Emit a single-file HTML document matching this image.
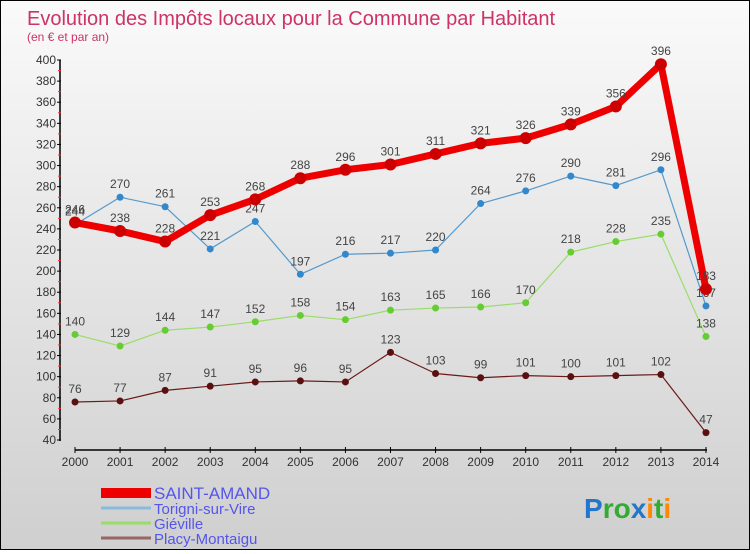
<!DOCTYPE html>
<html><head><meta charset="utf-8"><style>
body{margin:0}
#c{width:748px;height:548px;border:1px solid #000;background:linear-gradient(#fafafa,#cfcfcf);position:relative;font-family:"Liberation Sans",sans-serif}
</style></head><body>
<div id="c">
<svg id="s" width="748" height="548" xmlns="http://www.w3.org/2000/svg"></svg>
</div>
<script>
const years=[2000,2001,2002,2003,2004,2005,2006,2007,2008,2009,2010,2011,2012,2013,2014];
const saintAmand=[246,238,228,253,268,288,296,301,311,321,326,339,356,396,183];
const torigni=[244,270,261,221,247,197,216,217,220,264,276,290,281,296,167];
const gieville=[140,129,144,147,152,158,154,163,165,166,170,218,228,235,138];
const placy=[76,77,87,91,95,96,95,123,103,99,101,100,101,102,47];
const yTicks=[40,60,80,100,120,140,160,180,200,220,240,260,280,300,320,340,360,380,400];
const seriesNames=["SAINT-AMAND","Torigni-sur-Vire","Giéville","Placy-Montaigu"];
const NS="http://www.w3.org/2000/svg";
const s=document.getElementById('s');
const X=i=>74+i*45.07;
const Y=v=>439-(v-40)*(380/360);
function el(t,a,txt){const e=document.createElementNS(NS,t);for(const k in a)e.setAttribute(k,a[k]);if(txt!==undefined)e.textContent=txt;s.appendChild(e);return e;}
let e;
e=el('text',{x:26,y:24,'font-size':20,fill:'#cc3366'},'Evolution des Impôts locaux pour la Commune par Habitant');


e=el('text',{x:26,y:40,'font-size':12,fill:'#cc3366'},'(en € et par an)');


e=el('line',{x1:59,y1:59,x2:59,y2:440,stroke:'#000','stroke-width':1.5});


yTicks.forEach(v=>{
 el('line',{x1:56,y1:Y(v),x2:60,y2:Y(v),stroke:'#000'});
 e=el('text',{x:55,y:Y(v)+4,'font-size':12,fill:'#333','text-anchor':'end'},v);
 
 
 if(v<400)el('line',{x1:57,y1:Y(v+10),x2:60,y2:Y(v+10),stroke:'#e33'});
});
e=el('line',{x1:74,y1:449,x2:706,y2:449,stroke:'#000','stroke-width':1.5});


years.forEach((y,i)=>{
 el('line',{x1:X(i),y1:446,x2:X(i),y2:452,stroke:'#000'});
 e=el('text',{x:X(i),y:465,'font-size':12,fill:'#333','text-anchor':'middle'},y);
 
 
});
const series=[[placy,'#6b1a1a','#5a1010',1.2,3.5],[gieville,'#99dd66','#66cc33',1.2,3.5],[torigni,'#5599cc','#3388cc',1.2,3.5],[saintAmand,'#ee0000','#cc0000',7,6]];
const names=['line-placy-montaigu','line-gieville','line-torigni','line-saint-amand'];
series.forEach((sr,k)=>{
 const d=sr[0];
 e=el('polyline',{points:d.map((v,i)=>X(i)+','+Y(v)).join(' '),fill:'none',stroke:sr[1],'stroke-width':sr[3],'stroke-linejoin':'round'});
 
 
 d.forEach((v,i)=>{
  e=el('circle',{cx:X(i),cy:Y(v),r:sr[4],fill:sr[2]});
  
  
  e=el('text',{x:X(i),y:Y(v)-9,'font-size':12,fill:'#444','text-anchor':'middle'},v);
  
  
 });
});
const lc=['#ee0000','#88bbdd','#99dd66','#996666'];
seriesNames.forEach((n,k)=>{
 e=el('line',{x1:100,y1:492+k*15,x2:150,y2:492+k*15,stroke:lc[k],'stroke-width':k==0?10:3});
 
 
 e=el('text',{x:153,y:498+k*15,'font-size':k==0?17:15,fill:'#5555ee'},n);
 
 
});
e=el('text',{x:583,y:517,'font-size':28,'font-weight':'bold'});


[['P','#2277cc'],['ro','#33aa33'],['x','#2277cc'],['i','#ff8800'],['t','#33aa33'],['i','#ff8800']].forEach(p=>{const t=document.createElementNS(NS,'tspan');t.setAttribute('fill',p[1]);t.textContent=p[0];e.appendChild(t);});
</script>
</body></html>
